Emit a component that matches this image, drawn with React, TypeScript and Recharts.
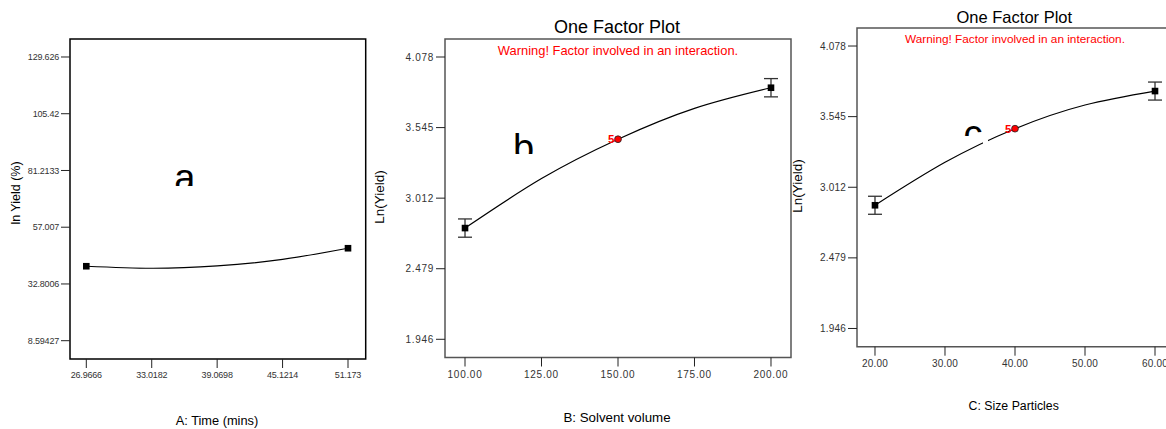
import React from 'react';
import {
  ComposedChart, Line, Scatter, XAxis, YAxis, ErrorBar, ReferenceArea,
} from 'recharts';

const FONT = '"Liberation Sans", Arial, sans-serif';

// Panel A: Time
const A_X_TICKS = [26.9666, 33.0182, 39.0698, 45.1214, 51.173];
const A_Y_TICKS = [8.59427, 32.8006, 57.007, 81.2133, 105.42, 129.626];
const A_CURVE_Y = [40.36, 39.5, 40.5, 43.3, 48.04];
const A_POINT_X = [26.9666, 51.173];
const A_POINT_Y = [40.36, 48.04];

// Panel B: Solvent volume
const B_X_TICKS = [100, 125, 150, 175, 200];
const B_Y_TICKS = [1.946, 2.479, 3.012, 3.545, 4.078];
const B_CURVE_Y = [2.786, 3.16, 3.457, 3.69, 3.846];
const B_POINT_X = [100, 200];
const B_POINT_Y = [2.786, 3.846];
const B_POINT_ERR = [0.069, 0.069];
const B_CENTER = { x: 150, y: 3.457, n: 5 };

// Panel C: Size particles
const C_X_TICKS = [20, 30, 40, 50, 60];
const C_Y_TICKS = [1.946, 2.479, 3.012, 3.545, 4.078];
const C_CURVE_Y = [2.876, 3.2, 3.454, 3.633, 3.738];
const C_POINT_X = [20, 60];
const C_POINT_Y = [2.876, 3.738];
const C_POINT_ERR = [0.068, 0.068];
const C_CENTER = { x: 40, y: 3.454, n: 5 };

const Square = (props: any) => {
  const { cx, cy } = props;
  if (cx == null || cy == null) return null;
  return <rect x={cx - 3.3} y={cy - 3.3} width={6.6} height={6.6} fill="#000" />;
};

const CenterDot = (props: any) => {
  const { cx, cy, payload } = props;
  if (cx == null || cy == null) return null;
  return (
    <g>
      <circle cx={cx} cy={cy} r={3.4} fill="#ff0000" stroke="#222" strokeWidth={0.8} />
      <text x={cx - 3.5} y={cy + 4} textAnchor="end" fill="#ff0000" fontSize={11.5} fontWeight={700} fontFamily={FONT}>
        {payload.n}
      </text>
    </g>
  );
};

interface PanelProps {
  left: number; width: number;
  margin: { top: number; right: number; bottom: number; left: number };
  xDomain: [number, number]; yDomain: [number, number];
  xTicks: number[]; yTicks: number[];
  curveY: number[]; pointX: number[]; pointY: number[]; pointErr?: number[];
  center?: { x: number; y: number; n: number };
  frame: string; tickFont: number; tickSpacing: number; xFmt: (v: number) => string;
}

const Panel = (p: PanelProps) => {
  const curve = p.xTicks.map((x, i) => ({ x, y: p.curveY[i] }));
  const points = p.pointX.map((x, i) => ({ x, y: p.pointY[i], err: p.pointErr ? p.pointErr[i] : 0 }));
  const tick = { fill: '#333', fontSize: p.tickFont, fontFamily: FONT, letterSpacing: p.tickSpacing };
  return (
    <div style={{ position: 'absolute', left: p.left, top: 0 }}>
      <ComposedChart width={p.width} height={429} margin={p.margin}>
        <XAxis
          type="number" dataKey="x" domain={p.xDomain} ticks={p.xTicks} interval={0}
          allowDataOverflow axisLine={false} tickSize={9} tickMargin={4} height={30}
          tickLine={{ stroke: '#222' }} tick={tick} tickFormatter={p.xFmt}
        />
        <YAxis
          type="number" dataKey="y" domain={p.yDomain} ticks={p.yTicks} interval={0}
          allowDataOverflow axisLine={false} tickSize={9} tickMargin={2} width={60}
          tickLine={{ stroke: '#222' }} tick={tick}
        />
        <ReferenceArea
          x1={p.xDomain[0]} x2={p.xDomain[1]} y1={p.yDomain[0]} y2={p.yDomain[1]}
          fill="#fff" fillOpacity={0} stroke={p.frame} strokeWidth={1.5} ifOverflow="visible"
        />
        <Line data={curve} dataKey="y" type="natural" stroke="#000" strokeWidth={1.2} dot={false} isAnimationActive={false} />
        <Scatter data={points} shape={<Square />} isAnimationActive={false}>
          {p.pointErr && <ErrorBar dataKey="err" direction="y" width={7} stroke="#333" strokeWidth={1.3} />}
        </Scatter>
        {p.center && <Scatter data={[p.center]} shape={<CenterDot />} isAnimationActive={false} />}
      </ComposedChart>
    </div>
  );
};

const Txt = ({ x, y, size, color = '#000', rotate = false, children }: any) => (
  <div
    style={{
      position: 'absolute', left: x, top: y, whiteSpace: 'nowrap', lineHeight: 1,
      fontFamily: FONT, fontSize: size, color,
      transform: `translate(-50%, -50%)${rotate ? ' rotate(-90deg)' : ''}`,
    }}
  >
    {children}
  </div>
);

// panel letters, partly masked at the bottom as in the source figure
const Letter = ({ left, top, height, inner, ch }: any) => (
  <div style={{ position: 'absolute', left, top, width: 30, height, overflow: 'hidden' }}>
    <div style={{ position: 'absolute', left: 0, top: inner, fontSize: 38, lineHeight: '38px', fontFamily: FONT }}>{ch}</div>
  </div>
);

export default function App() {
  return (
    <div style={{ position: 'absolute', left: 0, top: 0, width: 1166, height: 429, overflow: 'hidden', background: '#fff' }}>
      <Panel
        left={0} width={380} margin={{ top: 39, right: 14.3, bottom: 40, left: 10 }}
        xDomain={[25.459, 52.81]} yDomain={[0.787, 137.3]}
        xTicks={A_X_TICKS} yTicks={A_Y_TICKS} curveY={A_CURVE_Y} pointX={A_POINT_X} pointY={A_POINT_Y}
        frame="#000" tickFont={9} tickSpacing={-0.2} xFmt={(v) => String(v)}
      />
      <Panel
        left={370} width={430} margin={{ top: 39, right: 9, bottom: 41.5, left: 15 }}
        xDomain={[93.46, 206.54]} yDomain={[1.8085, 4.214]}
        xTicks={B_X_TICKS} yTicks={B_Y_TICKS} curveY={B_CURVE_Y} pointX={B_POINT_X} pointY={B_POINT_Y}
        pointErr={B_POINT_ERR} center={B_CENTER}
        frame="#555" tickFont={10} tickSpacing={0.7} xFmt={(v) => v.toFixed(2)}
      />
      <Panel
        left={780} width={400} margin={{ top: 28, right: 7, bottom: 52.3, left: 17 }}
        xDomain={[17.43, 62.57]} yDomain={[1.8085, 4.214]}
        xTicks={C_X_TICKS} yTicks={C_Y_TICKS} curveY={C_CURVE_Y} pointX={C_POINT_X} pointY={C_POINT_Y}
        pointErr={C_POINT_ERR} center={C_CENTER}
        frame="#555" tickFont={10} tickSpacing={0.2} xFmt={(v) => v.toFixed(2)}
      />

      <Txt x={15.5} y={193} size={12.5} rotate>ln Yield (%)</Txt>
      <Txt x={217} y={420.7} size={12.8}>A: Time (mins)</Txt>

      <Txt x={617} y={27} size={18}>One Factor Plot</Txt>
      <Txt x={618} y={50.7} size={12.9} color="#ff0000">Warning! Factor involved in an interaction.</Txt>
      <Txt x={379.5} y={196.7} size={13.5} rotate>Ln(Yield)</Txt>
      <Txt x={617} y={418} size={13.3}>B: Solvent volume</Txt>

      <Txt x={1014.3} y={16.7} size={16.5}>One Factor Plot</Txt>
      <Txt x={1015} y={40} size={11.8} color="#ff0000">Warning! Factor involved in an interaction.</Txt>
      <Txt x={798.2} y={185.8} size={13.5} rotate>Ln(Yield)</Txt>
      <Txt x={1013.7} y={406} size={12.3}>C: Size Particles</Txt>

      <Letter left={174.3} top={165} height={20.7} inner={-5.8} ch="a" />
      <Letter left={513} top={130} height={24} inner={-1} ch="b" />
      <Letter left={963.5} top={120} height={16} inner={-5.4} ch="c" />
      <div style={{ position: 'absolute', left: 983, top: 139, width: 5, height: 6, background: '#fff' }} />
    </div>
  );
}
